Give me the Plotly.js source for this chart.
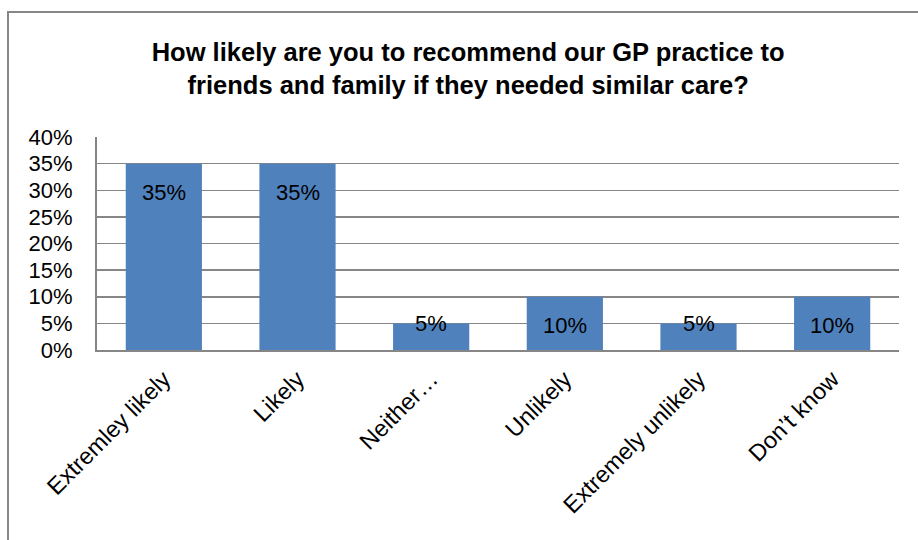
<!DOCTYPE html>
<html>
<head>
<meta charset="utf-8">
<script src="https://cdn.plot.ly/plotly-3.0.1.min.js"></script>
<style>
  html, body { margin: 0; padding: 0; background: #fff; }
  #wrap { position: relative; width: 918px; height: 540px; overflow: hidden; }
  #chart { width: 918px; height: 540px; }
  #frame { position: absolute; left: 7px; top: 11px; width: 1000px; height: 1000px;
           border-left: 2px solid #878787; border-top: 2px solid #878787; pointer-events: none; }
</style>
</head>
<body>
<div id="wrap">
  <div id="chart"></div>
  <div id="frame"></div>
</div>
<script>
const categories = ["Extremley likely", "Likely", "Neither\u2026", "Unlikely", "Extremely unlikely", "Don\u2019t know"];
const shares = [0.35, 0.35, 0.05, 0.10, 0.05, 0.10];
const labels = ["35%", "35%", "5%", "10%", "5%", "10%"];
const yTicks = [0, 0.05, 0.10, 0.15, 0.20, 0.25, 0.30, 0.35, 0.40];
const yTickText = ["0%", "5%", "10%", "15%", "20%", "25%", "30%", "35%", "40%"];

const FONT = "Liberation Sans, Arial, sans-serif";

const annotations = categories.map((c, i) => ({
  x: c, y: shares[i], xref: "x", yref: "y",
  text: labels[i], showarrow: false,
  yanchor: "middle",
  yshift: shares[i] >= 0.10 ? -29 : 0,
  font: { family: FONT, size: 22, color: "#000" }
}));

const trace = {
  type: "bar",
  x: categories,
  y: shares,
  marker: { color: "#4F81BD", line: { width: 0 } },
  hoverinfo: "skip"
};

const layout = {
  width: 918, height: 540,
  margin: { l: 97, r: 19, t: 137, b: 190, pad: 0 },
  paper_bgcolor: "#fff", plot_bgcolor: "#fff",
  bargap: 0.43,
  showlegend: false,
  title: {
    text: "<b>How likely are you to recommend our GP practice to<br>friends and family if they needed similar care?</b>",
    font: { family: FONT, size: 25.5, color: "#000" },
    x: 0.51, xanchor: "center", yref: "container", y: 1 - 61 / 540, yanchor: "top"
  },
  xaxis: {
    type: "category",
    tickangle: -45,
    showline: true, linecolor: "#868686", linewidth: 2,
    showgrid: false, ticks: "",
    ticklabelstandoff: 4,
    tickfont: { family: FONT, size: 23.5, color: "#000" }
  },
  yaxis: {
    range: [0, 0.4],
    tickvals: yTicks, ticktext: yTickText,
    showline: true, linecolor: "#868686", linewidth: 2,
    showgrid: true, gridcolor: "#868686", gridwidth: 1.5,
    zeroline: false, ticks: "",
    ticklabelstandoff: 18,
    tickfont: { family: FONT, size: 22, color: "#000" }
  },
  annotations: annotations
};

Plotly.newPlot("chart", [trace], layout, { staticPlot: true, displayModeBar: false });
</script>
</body>
</html>
